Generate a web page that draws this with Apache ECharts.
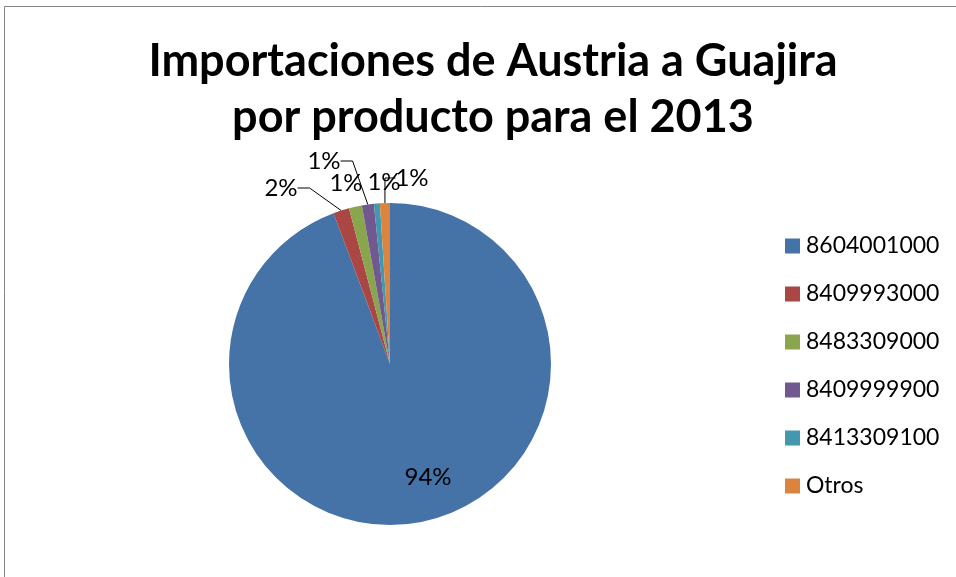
<!DOCTYPE html>
<html>
<head>
<meta charset="utf-8">
<script src="https://cdn.jsdelivr.net/npm/echarts@6/dist/echarts.min.js"></script>
<style>
  html, body { margin: 0; padding: 0; background: #fff; overflow: hidden; }
  #chart { width: 956px; height: 577px; }
</style>
</head>
<body>
<div id="chart"></div>
<script>
// productos (codigo arancelario) y participacion en %
var productos = ['8604001000', '8409993000', '8483309000', '8409999900', '8413309100', 'Otros'];
var participacion = [94.3, 1.6, 1.3, 1.2, 0.6, 1.0];
var colores = ['#4572A7', '#AA4643', '#89A54E', '#71588F', '#4198AF', '#DB843D'];

// donde va cada etiqueta (como en el grafico original de excel)
var posEtiqueta = [[428, 477], [281, 188], [346, 183], [324, 161], [384, 182], [412, 178]];
var conGuia = [false, true, false, true, false, true];

var chart = echarts.init(document.getElementById('chart'));

var datos = [];
productos.forEach(function (nombre, i) {
    datos.push({
        name: nombre,
        value: participacion[i],
        itemStyle: { color: colores[i] },
        labelLine: { show: conGuia[i] }
    });
});

var option = {
    animation: false,
    backgroundColor: '#fff',
    graphic: [{
        type: 'rect',
        shape: { x: 4.5, y: 6.5, width: 1200, height: 1200 },
        style: { fill: 'none', stroke: '#868686', lineWidth: 1 },
        silent: true
    }],
    title: {
        text: 'Importaciones de Austria a Guajira\npor producto para el 2013',
        left: 488,
        textAlign: 'center',
        top: 28,
        textStyle: {
            fontFamily: 'Lato',
            fontWeight: 'bold',
            fontSize: 45,
            lineHeight: 56,
            color: '#000'
        }
    },
    legend: {
        orient: 'vertical',
        left: 780,
        top: 229,
        itemWidth: 15,
        itemHeight: 15,
        itemGap: 24,
        icon: 'rect',
        textStyle: {
            fontFamily: 'Lato',
            fontSize: 23,
            lineHeight: 24,
            color: '#000',
            padding: [0, 0, 0, 1]
        },
        data: productos
    },
    series: [{
        type: 'pie',
        center: [390, 364],
        radius: 161,
        startAngle: 90,
        clockwise: true,
        data: datos,
        label: {
            show: true,
            position: 'outside',
            fontFamily: 'Lato',
            fontSize: 24,
            color: '#000',
            formatter: function (p) { return Math.round(p.percent) + '%'; }
        },
        labelLine: {
            length: 10,
            length2: 12,
            lineStyle: { color: '#000', width: 1 }
        },
        labelLayout: function (p) {
            var pos = posEtiqueta[p.dataIndex];
            return { x: pos[0], y: pos[1], align: 'center', verticalAlign: 'middle' };
        },
        emphasis: { disabled: true }
    }]
};

chart.setOption(option);
</script>
</body>
</html>
